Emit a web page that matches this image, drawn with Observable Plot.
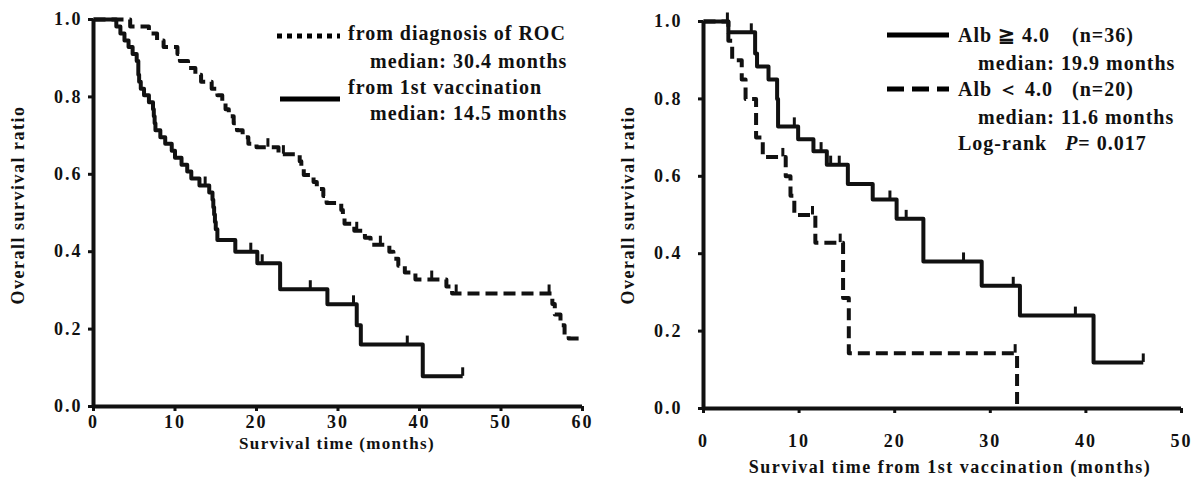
<!DOCTYPE html>
<html><head><meta charset="utf-8">
<script src="https://cdn.jsdelivr.net/npm/d3@7"></script>
<script src="https://cdn.jsdelivr.net/npm/@observablehq/plot@0.6"></script>
<style>
body{margin:0;background:#fff;}
#wrap{position:relative;width:1200px;height:492px;font-family:"Liberation Serif","Times New Roman",serif;color:#111;overflow:hidden;}
.panel{position:absolute;top:0;left:0;}
.t{position:absolute;font-weight:bold;font-size:20px;letter-spacing:1px;white-space:pre;line-height:22px;}
.ax{position:absolute;font-weight:bold;white-space:pre;line-height:20px;}
.sw{position:absolute;}
</style></head>
<body><div id="wrap"></div>
<script>
// ---- Left panel data (Kaplan-Meier, months) ----
const diagTime = [0,4.5,6.8,7.8,8.6,10.3,10.6,11.6,12.5,13.2,14.5,15.2,15.8,16.2,16.6,17.2,17.6,18.3,19.0,20.0,22.7,25.3,25.5,25.8,27.0,27.4,28.2,28.6,30.4,30.6,30.8,32.0,33.3,34.0,36.3,36.8,37.4,38.2,39.5,43.3,44.0,56.3,56.6,57.3,57.8,58.3,60.0];
const diagSurv = [1.0,0.982,0.964,0.946,0.929,0.911,0.893,0.875,0.857,0.839,0.821,0.804,0.786,0.768,0.75,0.732,0.714,0.696,0.679,0.67,0.652,0.634,0.616,0.598,0.58,0.562,0.544,0.526,0.508,0.49,0.472,0.454,0.436,0.418,0.40,0.382,0.364,0.346,0.328,0.31,0.292,0.265,0.238,0.21,0.186,0.176,0.176];
const diagCensT = [21.4,23.3,32.3,35.2,41.5,44.5,55.9];
const diagCensS = [0.67,0.652,0.454,0.418,0.328,0.292,0.292];

const vacTime = [0,2.8,3.3,3.8,4.3,4.8,5.3,5.5,5.6,5.8,6.2,6.8,7.3,7.4,7.5,7.6,8.2,8.8,9.6,10.0,10.8,11.5,12.0,13.0,14.2,14.6,14.7,14.8,14.9,15.0,15.2,17.4,20.1,22.9,28.7,32.3,32.8,40.4,45.3];
const vacSurv = [1.0,0.982,0.964,0.946,0.929,0.911,0.893,0.857,0.839,0.821,0.804,0.786,0.768,0.75,0.732,0.714,0.696,0.679,0.661,0.643,0.625,0.607,0.589,0.571,0.553,0.534,0.515,0.496,0.477,0.458,0.430,0.40,0.37,0.303,0.264,0.21,0.16,0.078,0.078];
const vacCensT = [13.7,19.3,20.7,26.6,31.9,38.5,45.3];
const vacCensS = [0.571,0.40,0.37,0.303,0.264,0.16,0.078];

// ---- Right panel data ----
const hiTime = [0,2.6,5.4,5.6,6.8,7.7,7.8,9.9,11.5,12.9,15.1,17.7,20.2,23.0,29.1,33.1,40.8,46.0];
const hiSurv = [1.0,0.972,0.917,0.884,0.85,0.80,0.729,0.696,0.665,0.63,0.58,0.54,0.49,0.38,0.317,0.24,0.119,0.119];
const hiCensT = [2.5,5.0,9.5,12.3,13.3,14.2,19.5,21.2,27.2,32.4,38.9,46.0];
const hiCensS = [1.0,0.972,0.729,0.665,0.63,0.63,0.54,0.49,0.38,0.317,0.24,0.119];

const loTime = [0,2.6,3.0,4.0,4.4,5.5,6.2,8.6,9.1,9.5,11.7,14.6,15.2,32.8];
const loSurv = [1.0,0.95,0.90,0.85,0.80,0.70,0.65,0.60,0.55,0.50,0.4286,0.2857,0.143,0];
const loCensT = [8.3,11.4,14.3,32.6];
const loCensS = [0.65,0.50,0.4286,0.143];

const yTicks = [0,0.2,0.4,0.6,0.8,1.0];
const leftXTicks = [0,10,20,30,40,50,60];
const rightXTicks = [0,10,20,30,40,50];

const pts = (T,S) => T.map((t,i)=>({t, s:S[i]}));
const cens = (T,S) => T.map((t,i)=>({t, s:S[i], s2:S[i]+0.022}));

const baseStyle = {fontFamily:'"Liberation Serif","Times New Roman",serif', fontSize:"18px", fontWeight:"bold", letterSpacing:"2px", background:"transparent", color:"#111", overflow:"visible"};

function km(opts){
  return Plot.plot({
    width:opts.w, height:492,
    marginLeft:opts.ml, marginRight:opts.mr, marginTop:opts.mt, marginBottom:opts.mb,
    x:{domain:opts.xd}, y:{domain:[0,1]},
    style: baseStyle,
    marks:[
      Plot.axisY({ticks:yTicks, tickFormat:d3.format(".1f"), tickSize:5, tickPadding:opts.yPad, strokeWidth:3, label:null}),
      Plot.axisX({ticks:opts.xt, tickFormat:d3.format("d"), tickSize:5, tickPadding:opts.xPad, strokeWidth:3, label:null}),
      Plot.ruleX([0], {strokeWidth:4}),
      Plot.ruleY([0], {strokeWidth:4}),
      ...opts.series.map(sr => Plot.line(pts(sr.T,sr.S), {x:"t", y:"s", curve:"step-after", strokeWidth:4, strokeDasharray:sr.dash, strokeLinecap:"butt"})),
      ...opts.series.map(sr => Plot.ruleX(cens(sr.CT,sr.CS), {x:"t", y1:"s", y2:"s2", strokeWidth:3}))
    ]
  });
}

const wrap = document.getElementById("wrap");
const left = km({w:600, ml:93, mr:18, mt:19, mb:86, xd:[0,60], xt:leftXTicks, yPad:6, xPad:4,
  series:[{T:diagTime,S:diagSurv,CT:diagCensT,CS:diagCensS,dash:"12,6"},{T:vacTime,S:vacSurv,CT:vacCensT,CS:vacCensS,dash:null}]});
const right = km({w:1200, ml:703, mr:19, mt:21, mb:84, xd:[0,50], xt:rightXTicks, yPad:16, xPad:21,
  series:[{T:hiTime,S:hiSurv,CT:hiCensT,CS:hiCensS,dash:null},{T:loTime,S:loSurv,CT:loCensT,CS:loCensS,dash:"12,6"}]});
left.classList.add("panel");
right.classList.add("panel");
wrap.appendChild(left); wrap.appendChild(right);

function addText(cls, txt, x, y, extra){
  const d=document.createElement("div"); d.className=cls; d.innerHTML=txt;
  d.style.left=x+"px"; d.style.top=y+"px"; if(extra) Object.assign(d.style, extra);
  wrap.appendChild(d); return d;
}
function swatch(x,y,w,dash){
  const s=document.createElementNS("http://www.w3.org/2000/svg","svg");
  s.setAttribute("class","sw"); s.setAttribute("width",w); s.setAttribute("height",8);
  s.style.left=x+"px"; s.style.top=(y-4)+"px";
  const l=document.createElementNS("http://www.w3.org/2000/svg","line");
  l.setAttribute("x1",0); l.setAttribute("x2",w); l.setAttribute("y1",4); l.setAttribute("y2",4);
  l.setAttribute("stroke","#000"); l.setAttribute("stroke-width",5);
  if(dash) l.setAttribute("stroke-dasharray",dash);
  s.appendChild(l); wrap.appendChild(s);
}
// left legend
swatch(277,36,63,"5,5");
addText("t","from diagnosis of ROC",348,22);
addText("t","median: 30.4 months",370,50);
swatch(280,99,60,null);
addText("t","from 1st vaccination",348,76);
addText("t","median: 14.5 months",370,102);
// right legend
swatch(887,35,62,null);
addText("t","Alb ≧ 4.0",958,24);
addText("t","(n=36)",1072,24);
addText("t","median: 19.9 months",978,52);
swatch(887,89,62,"17,8");
addText("t","Alb ＜ 4.0",958,78);
addText("t","(n=20)",1072,78);
addText("t","median: 11.6 months",978,106);
addText("t","Log-rank   <i>P</i>= 0.017",958,132);
// axis titles
addText("ax","Overall survival ratio",18,205,{fontSize:"18px",letterSpacing:"1.5px",transform:"translate(-50%,-50%) rotate(-90deg)"});
addText("ax","Overall survival ratio",628,205,{fontSize:"18px",letterSpacing:"1.5px",transform:"translate(-50%,-50%) rotate(-90deg)"});
addText("ax","Survival time (months)",337,444,{fontSize:"17px",letterSpacing:"1.3px",transform:"translate(-50%,-50%)"});
addText("ax","Survival time from 1st vaccination (months)",950,467,{fontSize:"18px",letterSpacing:"1.5px",transform:"translate(-50%,-50%)"});
</script>
</body></html>
